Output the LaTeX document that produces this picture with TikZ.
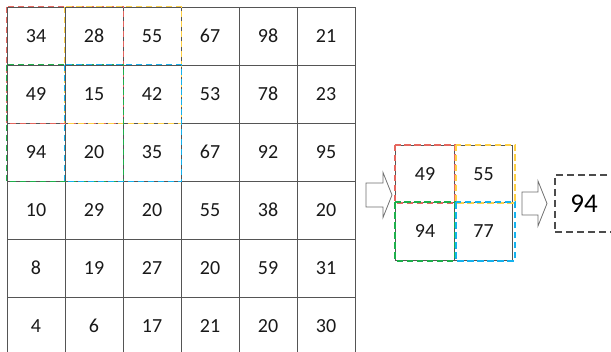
\documentclass[tikz,border=0pt]{standalone}
\usepackage{fontspec}
\setmainfont{Carlito}
\usetikzlibrary{positioning}
\definecolor{gridgray}{HTML}{555555}
\definecolor{winred}{HTML}{E5675F}
\definecolor{winyellow}{HTML}{FFD147}
\definecolor{wingreen}{HTML}{1DB04B}
\definecolor{winblue}{HTML}{14B2EE}
\tikzset{
  cell/.style={draw=gridgray, line width=0.9pt, minimum size=58pt, inner sep=0pt,
               font=\fontsize{20}{24}\selectfont, text=black!90},
  win/.style={draw=#1, line width=1.7pt, dash pattern=on 6.5pt off 3.5pt},
  blockarrow/.style={draw=gridgray!85, fill=white, line width=0.8pt, line join=miter},
  result/.style={draw=black!70, line width=1.4pt, dash pattern=on 7pt off 4pt,
               minimum width=58pt, minimum height=57pt, inner sep=0pt,
               font=\fontsize{27}{31}\selectfont, text=black},
}

\begin{document}
\begin{tikzpicture}[x=1pt,y=-1pt]
  \useasboundingbox (0,0) rectangle (611,352);
  % input map
  \foreach \vals [count=\r from 0] in {{34,28,55,67,98,21},{49,15,42,53,78,23},
      {94,20,35,67,92,95},{10,29,20,55,38,20},{8,19,27,20,59,31},{4,6,17,21,20,30}} {
    \foreach \v [count=\c from 0] in \vals {
      \node[cell] (c-\r-\c) at ({36+58*\c},{36+58*\r}) {\v};
    }
  }
  % pooling windows
  \draw[win=winred]    (c-0-0.north west) rectangle (c-1-1.south east);
  \draw[win=winyellow] (c-0-1.north west) rectangle (c-1-2.south east);
  \draw[win=wingreen]  (c-1-0.north west) rectangle (c-2-1.south east);
  \draw[win=winblue]   (c-1-1.north west) rectangle (c-2-2.south east);

  \coordinate (a1) at (366,195);
  \draw[blockarrow] (a1) ++(0,-12) -- ++(17,0) -- ++(0,-10.5) -- ++(9,22.5)
    -- ++(-9,22.5) -- ++(0,-10.5) -- ++(-17,0) -- cycle;

  % pooled map
  \node[cell,minimum width=58.5pt,minimum height=57.5pt] (p-0-0) at (425,174) {49};
  \node[cell,minimum width=58.5pt,minimum height=57.5pt] (p-0-1) at (483.5,174) {55};
  \node[cell,minimum width=58.5pt,minimum height=57.5pt] (p-1-0) at (425,231.5) {94};
  \node[cell,minimum width=58.5pt,minimum height=57.5pt] (p-1-1) at (483.5,231.5) {77};
  \draw[win=winred]    (p-0-0.north west) rectangle (p-0-0.south east);
  \draw[win=winyellow] ([xshift=2pt]p-0-1.north west) rectangle ([xshift=2pt]p-0-1.south east);
  \draw[win=wingreen]  (p-1-0.north west) rectangle (p-1-0.south east);
  \draw[win=winblue]   ([xshift=2pt]p-1-1.north west) rectangle ([xshift=2pt]p-1-1.south east);

  \coordinate (a2) at (522,203.5);
  \draw[blockarrow] (a2) ++(0,-11.5) -- ++(16,0) -- ++(0,-11) -- ++(9,22.5)
    -- ++(-9,22.5) -- ++(0,-11) -- ++(-16,0) -- cycle;

  \node[result] (res) at (584,203.5) {94};
\end{tikzpicture}
\end{document}
